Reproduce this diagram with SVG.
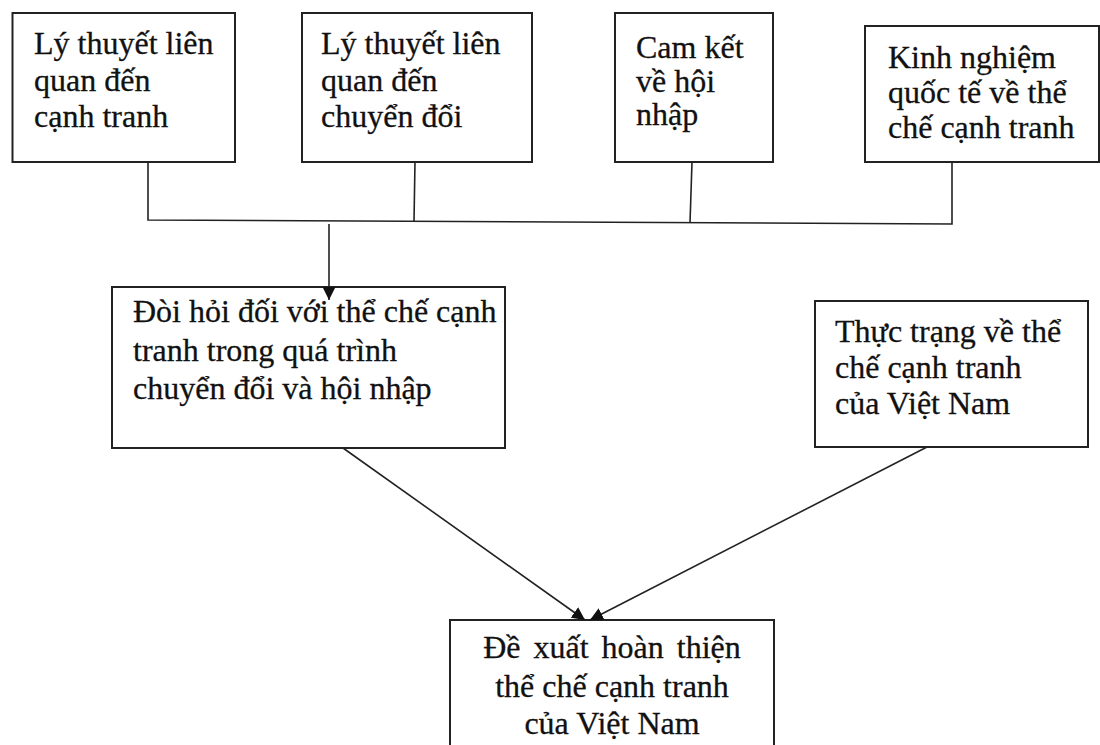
<svg xmlns="http://www.w3.org/2000/svg" width="1100" height="745" viewBox="0 0 1100 745">
<style>
.box{fill:#fff;stroke:#222;stroke-width:2}
.t{font-family:"Liberation Serif","Times New Roman",serif;font-size:32px;fill:#111;stroke:#111;stroke-width:0.3}
.c{text-anchor:middle}
.ln{fill:none;stroke:#222;stroke-width:1.6}
</style>
<defs>
<marker id="ah" markerUnits="userSpaceOnUse" markerWidth="14" markerHeight="14" viewBox="0 0 14 14" refX="13" refY="7" orient="auto">
<path d="M0,0.5 L13,7 L0,13.5 Z" fill="#111"/>
</marker>
</defs>
<rect width="1100" height="745" fill="#fff"/>
<g id="n1">
<rect class="box" x="12.5" y="13" width="222.5" height="149"/>
<text class="t" x="34" y="54">Lý thuyết liên</text>
<text class="t" x="34" y="91">quan đến</text>
<text class="t" x="34" y="127">cạnh tranh</text>
</g>
<g id="n2">
<rect class="box" x="302" y="13" width="230" height="149"/>
<text class="t" x="321" y="54">Lý thuyết liên</text>
<text class="t" x="321" y="91">quan đến</text>
<text class="t" x="321" y="127">chuyển đổi</text>
</g>
<g id="n3">
<rect class="box" x="615" y="13" width="158" height="149"/>
<text class="t" x="636" y="58">Cam kết</text>
<text class="t" x="636" y="92">về hội</text>
<text class="t" x="636" y="125">nhập</text>
</g>
<g id="n4">
<rect class="box" x="865" y="26" width="234" height="136"/>
<text class="t" x="888" y="68">Kinh nghiệm</text>
<text class="t" x="888" y="103">quốc tế về thể</text>
<text class="t" x="888" y="138">chế cạnh tranh</text>
</g>
<g id="n5">
<rect class="box" x="112" y="287" width="393" height="161"/>
<text class="t" x="133" y="322">Đòi hỏi đối với thể chế cạnh</text>
<text class="t" x="133" y="361">tranh trong quá trình</text>
<text class="t" x="133" y="399">chuyển đổi và hội nhập</text>
</g>
<g id="n6">
<rect class="box" x="815" y="301" width="273" height="146"/>
<text class="t" x="835" y="342">Thực trạng về thể</text>
<text class="t" x="835" y="378">chế cạnh tranh</text>
<text class="t" x="835" y="414">của Việt Nam</text>
</g>
<g id="n7">
<rect class="box" x="450" y="620" width="324" height="140"/>
<text class="t c" x="612" y="658" word-spacing="5">Đề xuất hoàn thiện</text>
<text class="t c" x="612" y="697">thể chế cạnh tranh</text>
<text class="t c" x="612" y="734">của Việt Nam</text>
</g>
<g id="connectors">
<path class="ln" d="M148,162 V220 L952,224 V162"/>
<path class="ln" d="M415,162 L414,221"/>
<path class="ln" d="M692,162 L690,223"/>
<path class="ln" d="M329,224 V300" marker-end="url(#ah)"/>
<path class="ln" d="M343,448 L585,620" marker-end="url(#ah)"/>
<path class="ln" d="M927,447 L590,620" marker-end="url(#ah)"/>
</g>
</svg>
